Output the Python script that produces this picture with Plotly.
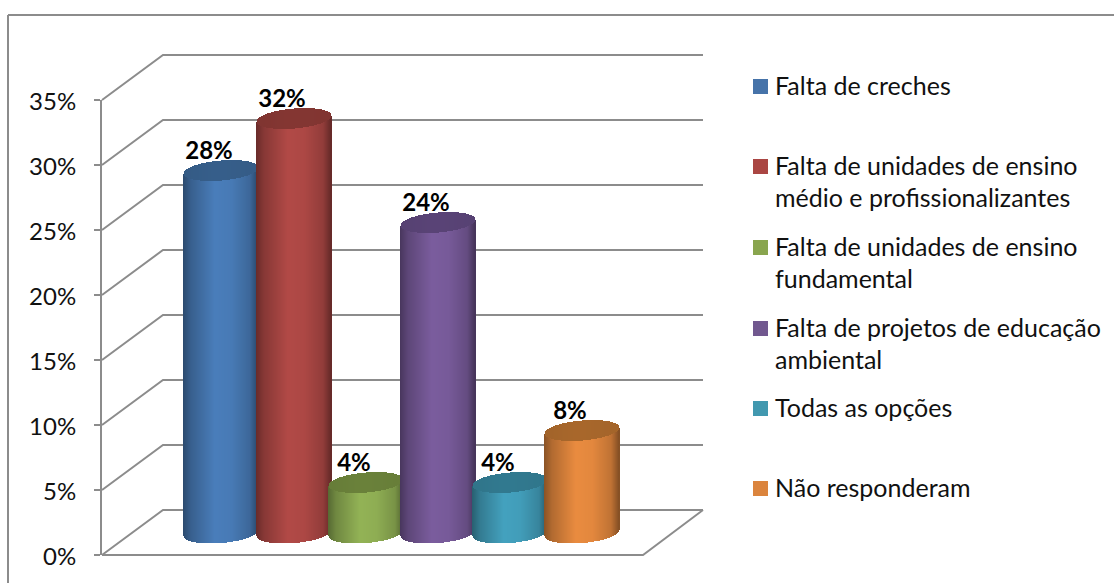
import numpy as np
import plotly.graph_objects as go

# Data
categories = ["Falta de creches",
              "Falta de unidades de ensino\nmédio e profissionalizantes",
              "Falta de unidades de ensino\nfundamental",
              "Falta de projetos de educação\nambiental",
              "Todas as opções",
              "Não responderam"]
values = [28, 32, 4, 24, 4, 8]
tick_values = [0, 5, 10, 15, 20, 25, 30, 35]
body_colors = ["#4a7ebb", "#b24a47", "#93b356", "#7b5d9e", "#44a2bf", "#ea8c40"]
cap_colors = ["#375f8b", "#853733", "#6b823b", "#5a4477", "#327a90", "#a9682c"]
swatch_colors = ["#4673a9", "#aa4643", "#89a54e", "#71588f", "#4198af", "#db843d"]
bar_centers = [221, 294, 366, 438, 510, 582]
legend_rows = [86, 166, 247, 328, 408, 488]

# Layout constants
W, H = 1114, 583
PX = 13.0          # pixels per percentage point
AX_X, Y0 = 102, 555
DEPTH_X, DEPTH_V = 61, 45 / PX
BACK_R = 703
FRONT_R = 643
BASE_V = (Y0 - 534.5) / PX
FOOT_LIFT = 1.5 / PX
RX, RY, TILT = 37, 10.0 / PX, 3.0 / PX
FONT = "Lato"
GRID = "#8c8c8c"


def rgb(c):
    return np.array([int(c[i:i + 2], 16) for i in (1, 3, 5)], float)


def shade(c, f):
    v = np.clip(rgb(c) * f, 0, 255).astype(int)
    return f"rgb({v[0]},{v[1]},{v[2]})"


fig = go.Figure()

# Invisible point so the subplot carrying the real value axis exists
fig.add_trace(go.Scatter(x=[AX_X], y=[0], mode="markers", marker=dict(opacity=0),
                         hoverinfo="skip", showlegend=False))

# Walls and floor
for v in tick_values:
    fig.add_trace(go.Scatter(x=[AX_X, AX_X + DEPTH_X, BACK_R], y=[v, v + DEPTH_V, v + DEPTH_V],
                             mode="lines", line=dict(color=GRID, width=2), xaxis="x2", yaxis="y2",
                             hoverinfo="skip", showlegend=False))
fig.add_trace(go.Scatter(x=[AX_X, FRONT_R, BACK_R], y=[0, 0, DEPTH_V], mode="lines",
                         line=dict(color=GRID, width=2), xaxis="x2", yaxis="y2",
                         hoverinfo="skip", showlegend=False))

# Cylinders: one bar per pixel column, so the shading and the elliptic ends come from the bars
t_stops = [-1, -0.8, -0.15, 0.3, 0.8, 1]
f_stops = [0.60, 0.76, 1.0, 0.97, 0.82, 0.58]
for val, cx, body, cap, name in zip(values, bar_centers, body_colors, cap_colors, categories):
    dx = np.arange(-RX, RX + 1, 1.0)
    t = np.clip(dx / RX, -1, 1)
    half = RY * np.sqrt(np.clip(1 - t ** 2, 0, 1))
    tilt = TILT * t
    low = BASE_V + FOOT_LIFT + tilt - half
    top_c = BASE_V + val + tilt
    xs = cx + dx
    shades = np.interp(t, t_stops, f_stops)
    fig.add_trace(go.Bar(x=xs, y=top_c - half - low, base=low, width=1.15,
                         marker=dict(color=[shade(body, f) for f in shades], line=dict(width=0)),
                         xaxis="x3", yaxis="y3", name=name.replace("\n", " "),
                         hoverinfo="skip", showlegend=False))
    cap_sh = 0.9 + 0.1 * np.interp(t, [-1, -0.1, 1], [0.6, 1.0, 0.7])
    fig.add_trace(go.Bar(x=xs, y=2 * half, base=top_c - half, width=1.15,
                         marker=dict(color=[shade(cap, f) for f in cap_sh], line=dict(width=0)),
                         xaxis="x3", yaxis="y3", hoverinfo="skip", showlegend=False))

# Data labels
fig.add_trace(go.Scatter(x=[c - 12 for c in bar_centers],
                         y=[v + BASE_V + 1.35 for v in values],
                         text=[f"{v}%" for v in values], mode="text",
                         textfont=dict(family=FONT, size=24, color="black", weight="bold"),
                         xaxis="x3", yaxis="y3", cliponaxis=False,
                         hoverinfo="skip", showlegend=False))

annotations, shapes = [], []
LINE = 32
for name, row, col in zip(categories, legend_rows, swatch_colors):
    shapes.append(dict(type="rect", xref="paper", yref="paper", x0=753 / W, x1=768 / W,
                       y0=1 - (row + 8) / H, y1=1 - (row - 7) / H,
                       fillcolor=col, line=dict(width=0)))
    for i, line in enumerate(name.split("\n")):
        annotations.append(dict(text=line, xref="paper", yref="paper", x=773 / W,
                                y=1 - (row - 1 + i * LINE) / H, xanchor="left", yanchor="middle",
                                showarrow=False, align="left",
                                font=dict(family=FONT, size=25, color="#111111")))

# Outer frame (top and left edges)
for x0, y0, x1, y1 in [(8, 15, 1114, 15), (8, 15, 8, 583)]:
    shapes.append(dict(type="line", xref="paper", yref="paper", x0=x0 / W, x1=x1 / W,
                       y0=1 - y0 / H, y1=1 - y1 / H, line=dict(color="#8c8c8c", width=2)))

page_x = [0, W]
page_y = [-(H - Y0) / PX, Y0 / PX]

fig.update_layout(
    width=W, height=H, autosize=False, margin=dict(l=0, r=0, t=0, b=0),
    paper_bgcolor="white", plot_bgcolor="rgba(0,0,0,0)", barmode="overlay", bargap=0,
    showlegend=False, annotations=annotations, shapes=shapes,
    font=dict(family=FONT, color="#111111"),
    xaxis=dict(domain=[AX_X / W, 1], range=[AX_X, W], visible=False, anchor="y", automargin=False),
    yaxis=dict(domain=[(H - Y0) / H, (H - 100) / H], range=[0, 35], anchor="x",
               tickvals=tick_values, ticktext=[f"{v}%" for v in tick_values],
               showgrid=False, zeroline=False, showline=True, linecolor=GRID, linewidth=2,
               ticks="outside", ticklen=6, tickwidth=2, tickcolor=GRID,
               tickfont=dict(family=FONT, size=24, color="#111111"),
               ticklabelstandoff=13, ticklabelshift=2, automargin=False),
    xaxis2=dict(domain=[0, 1], range=page_x, visible=False, anchor="y2", automargin=False),
    yaxis2=dict(domain=[0, 1], range=page_y, visible=False, anchor="x2", automargin=False),
    xaxis3=dict(range=page_x, overlaying="x2", visible=False, anchor="y3", automargin=False),
    yaxis3=dict(range=page_y, overlaying="y2", visible=False, anchor="x3", automargin=False),
)

fig.write_html("out.html", post_script="document.body.style.margin='0';",
               config=dict(displayModeBar=False))
